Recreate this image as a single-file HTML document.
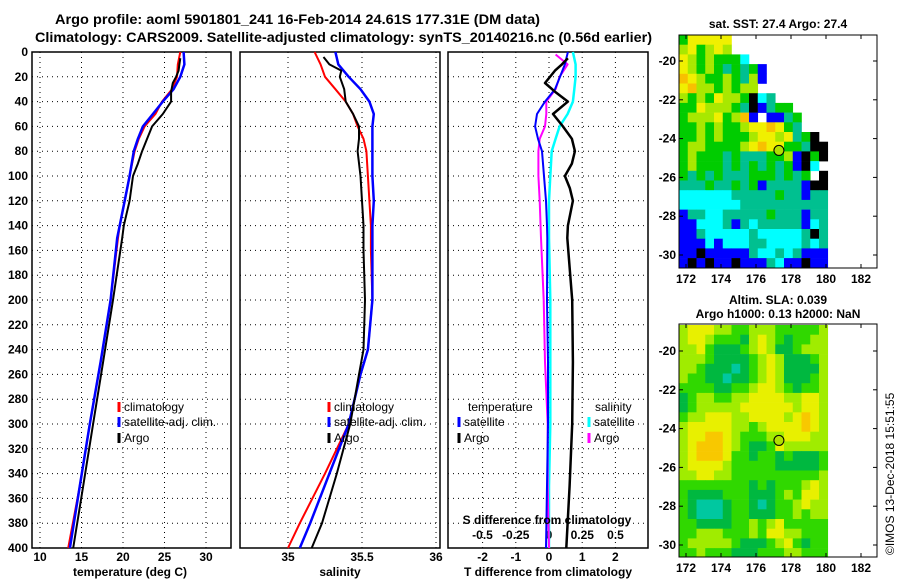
<!DOCTYPE html>
<html><head><meta charset="utf-8"><style>
body{margin:0;background:#fff;}
svg{display:block;font-family:"Liberation Sans",sans-serif;}
.t{font-weight:bold;font-size:12px;}
</style></head><body>
<svg id="c" width="900" height="580" viewBox="0 0 900 580">
<text x="55" y="24" textLength="485" lengthAdjust="spacingAndGlyphs" font-size="14" font-weight="bold">Argo profile: aoml 5901801_241 16-Feb-2014 24.61S 177.31E (DM data)</text>
<text x="35" y="42" textLength="617" lengthAdjust="spacingAndGlyphs" font-size="14" font-weight="bold">Climatology: CARS2009. Satellite-adjusted climatology: synTS_20140216.nc (0.56d earlier)</text>
<g id="maps"></g>
<g id="plots"></g>
<text class="t" x="130" y="576" text-anchor="middle">temperature (deg C)</text>
<text class="t" x="340" y="576" text-anchor="middle">salinity</text>
<text class="t" x="548" y="576" text-anchor="middle">T difference from climatology</text>
<text class="t" x="547" y="524" text-anchor="middle">S difference from climatology</text>
<text class="t" x="778" y="28" text-anchor="middle">sat. SST: 27.4 Argo: 27.4</text>
<text class="t" x="778" y="304" text-anchor="middle">Altim. SLA: 0.039</text>
<text class="t" x="778" y="318" text-anchor="middle">Argo h1000: 0.13 h2000: NaN</text>
<text x="0" y="0" font-size="12" transform="translate(894,555) rotate(-90)">©IMOS 13-Dec-2018 15:51:55</text>
</svg>
<script>
// ---- profile data ----
const depthT = [0,10,20,30,40,50,60,70,80,100,120,140,150,200,250,300,350,400];
const climT = [26.9,26.6,26.5,25.9,24.7,23.9,22.6,21.9,21.4,20.8,20.2,19.6,19.4,18.5,17.3,16.0,14.8,13.4];
const satT  = [27.3,27.4,26.9,26.1,24.8,23.6,22.4,21.8,21.3,20.8,20.2,19.6,19.3,18.5,17.3,16.0,14.8,13.6];
const depthArgo = [5,10,15,20,25,32,40,50,60,70,80,90,100,110,120,140,150,200,250,300,350,400];
const argoT = [26.9,26.8,26.7,26.4,26.0,25.8,25.8,24.8,23.5,22.9,22.3,21.8,21.2,21.0,20.8,20.1,19.9,18.8,17.6,16.4,15.2,14.0];
const depthS = [0,10,20,30,40,50,60,70,80,100,120,140,160,200,240,260,300,340,380,400];
const climS = [35.18,35.22,35.25,35.32,35.39,35.44,35.47,35.51,35.53,35.54,35.55,35.56,35.56,35.57,35.54,35.49,35.41,35.25,35.08,35.0];
const satS  = [35.32,35.34,35.41,35.49,35.55,35.58,35.57,35.57,35.57,35.57,35.58,35.57,35.57,35.57,35.54,35.49,35.41,35.28,35.15,35.08];
const depthArgoS = [4,10,15,20,30,40,50,60,70,80,100,120,140,160,200,240,260,300,340,380,400];
const argoS = [35.24,35.28,35.36,35.35,35.38,35.39,35.44,35.48,35.48,35.47,35.49,35.50,35.51,35.51,35.52,35.51,35.48,35.42,35.33,35.23,35.16];
const depthD = [0,10,20,30,40,50,60,70,80,100,120,140,150,200,250,300,350,400];
const satTdiff = [0.57,0.48,0.33,0.18,-0.12,-0.36,-0.42,-0.33,-0.21,-0.15,-0.09,-0.06,-0.05,-0.06,-0.03,-0.03,-0.06,-0.09];
const argoTdiffDepth = [5,10,15,25,32,40,50,60,70,80,90,100,110,120,140,150,200,250,300,350,400];
const argoTdiff = [0.57,0.39,0.18,-0.12,0.18,0.57,0.12,0.42,0.69,0.78,0.69,0.48,0.63,0.72,0.57,0.55,0.7,0.72,0.7,0.62,0.52];
const satSdiff = [0.18,0.2,0.2,0.19,0.18,0.14,0.08,0.05,0.02,0.01,0.0,0.0,0.0,0.01,0.01,0.01,0.0,0.0];
const argoSdiffDepth = [2,10,20,30,40,50,60,70,80,100,120,150,200,250,300,350,400];
const argoSdiff = [0.05,0.14,0.08,0.05,-0.02,-0.02,-0.03,-0.07,-0.08,-0.08,-0.07,-0.06,-0.04,-0.03,-0.01,-0.01,0.0];
const depthTicks = [0,20,40,60,80,100,120,140,160,180,200,220,240,260,280,300,320,340,360,380,400];
const tTicks = [10,15,20,25,30];
const sTicks = [35,35.5,36];
const tdTicks = [-2,-1,0,1,2];
const sdTicks = [-0.5,-0.25,0,0.25,0.5];
const tdTickLabels = ['-2','-1','0','1','2'];
const sdTickLabels = ['-0.5','-0.25','0','0.25','0.5'];
// ---- map data (rows from 18.66S southward, 0.5deg; cols from 171.6E) ----
const sstRows = [
"gyyyyywwwwwwwwwww","lyglylwwwwwwwwwww","ylglgggcwwwwwwwww","ylglgtgtgbwwwwwww",
"oylgglgtlbwwwwwww","yollglgllwwwwwwww","lglgyllgkctwwwwww","ggylllgtkbtggwwww",
"glllyglobwbbtgwww","gglglgglyyoygtwww","gglglggglyylytgkw","gllgggglyoyyggtkk",
"glgggtgtttgglbkgk","glgggtgtgtgtgbkcw","gtgtgtttgggtgtgwk","tttgttgtgbttttbkk",
"cccccctttttgttbtt","ccccccctttttttttt","bttcctttttgtttbtt","bbccctbtctttttbct",
"bbtccccctccccctkt","bbbcbcccttcccctct","bbkbbbbbtcctctbbb","bkbkbbkbbbtcbbkbb"];
const slaRows = [
"lyyyllgglllgggggl","lyylgggdlylgdggll","llygdddglylddglll","lllgddddglyldddgl",
"llgdddtdglylddddl","lggddtddglyldddgl","ggggddgglyylgdggl","dgllggllyyyyllyyl",
"dglllllyyyyyylyyl","gllyyyllyyyylyoyl","lyyyyyllglyyyyoyl","lyyooylgggllyyyll",
"lyoooylgddgylllll","lyoooyggdggdgdddg","lyyyylgggggdddddg","llyyllggggggggggl",
"ggggggggdgdggglyl","gddddgggdddglgyyl","gdtttdggdtdgglyll","gdtttdggdddgglgll",
"ggddddgglglyggggg","gglllggglgyyllggg","glllllgdddglygdgg","gglgggdddgggllggg"];
const lonTicks = [172,174,176,178,180,182];
const latTicks = [20,22,24,26,28,30];
const argoLon = 177.31, argoLat = 24.61;

const NS='http://www.w3.org/2000/svg';
function mk(tag, attrs, parent){const e=document.createElementNS(NS,tag);for(const k in attrs)e.setAttribute(k,attrs[k]);parent.appendChild(e);return e;}
const plots=document.getElementById('plots'), maps=document.getElementById('maps');
const yD = d => 52 + d*1.24;
const x1 = t => 40 + (t-10)*8.3;
const x2 = s => 288 + (s-35)*148;
const x3T = t => 549 + t*33.2;
const x3S = s => 549 + s*133;
const panels=[{l:32,r:231,n:'temperature'},{l:240,r:440,n:'salinity'},{l:448,r:648,n:'difference'}];

panels.forEach((p,i)=>{
  const g=mk('g',{},plots);
  
  
  depthTicks.forEach(d=>{
    const y=yD(d);
    if(d>0&&d<400){const gl=mk('line',{x1:p.l,x2:p.r,y1:y,y2:y,stroke:'#000','stroke-width':1,'stroke-dasharray':'1,4'},g);
      
      }
    if(i===0){const tx=mk('text',{x:28,y:y+4,'text-anchor':'end',class:'t'},g);tx.textContent=d;
      
      }
  });
});
function vgrid(vals, fx, labels, ylab){
  vals.forEach((v,k)=>{
    const x=fx(v);
    const gl=mk('line',{x1:x,x2:x,y1:52,y2:548,stroke:'#000','stroke-width':1,'stroke-dasharray':'1,4'},plots);
    
    
    const tx=mk('text',{x:x,y:ylab,'text-anchor':'middle',class:'t'},plots);tx.textContent=labels[k];
    
    
  });
}
vgrid(tTicks,x1,tTicks,561);
vgrid(sTicks,x2,sTicks,561);
vgrid(tdTicks,x3T,tdTickLabels,561);
sdTicks.forEach((v,k)=>{const tx=mk('text',{x:x3S(v),y:539,'text-anchor':'middle',class:'t'},plots);tx.textContent=sdTickLabels[k];
  
  });
panels.forEach(p=>{const r=mk('rect',{x:p.l,y:52,width:p.r-p.l,height:496,fill:'none',stroke:'#000','stroke-width':1.5},plots);
  
  });

function series(ds, vs, fx, color, w, name){
  const pts=ds.map((d,k)=>fx(vs[k]).toFixed(1)+','+yD(d).toFixed(1)).join(' ');
  const pl=mk('polyline',{points:pts,fill:'none',stroke:color,'stroke-width':w,'stroke-linejoin':'round'},plots);
  
  
}
series(depthT,climT,x1,'#f00',2,'climatology-temperature-line');
series(depthT,satT,x1,'#00f',2.5,'satellite-temperature-line');
series(depthArgo,argoT,x1,'#000',2,'argo-temperature-line');
series(depthS,climS,x2,'#f00',2,'climatology-salinity-line');
series(depthS,satS,x2,'#00f',2.5,'satellite-salinity-line');
series(depthArgoS,argoS,x2,'#000',2,'argo-salinity-line');
series(depthD,satSdiff,x3S,'#0ff',2.5,'satellite-s-diff-line');
series(argoSdiffDepth,argoSdiff,x3S,'#f0f',2,'argo-s-diff-line');
series(depthD,satTdiff,x3T,'#00f',2,'satellite-t-diff-line');
series(argoTdiffDepth,argoTdiff,x3T,'#000',2.5,'argo-t-diff-line');

function legend(x,y,color,label){
  const l=mk('line',{x1:x,x2:x,y1:y-9,y2:y+1,stroke:color,'stroke-width':3},plots);
  
  
  const t=mk('text',{x:x+5,y:y,'font-size':12},plots);t.textContent=label;
  
  
}
legend(119,411,'#f00','climatology');legend(119,426,'#00f','satellite-adj. clim.');legend(119,442,'#000','Argo');
legend(329,411,'#f00','climatology');legend(329,426,'#00f','satellite-adj. clim.');legend(329,442,'#000','Argo');
legend(459,426,'#00f','satellite');legend(459,442,'#000','Argo');
legend(589,426,'#0ff','satellite');legend(589,442,'#f0f','Argo');
[['temperature',468],['salinity',595]].forEach(a=>{const t=mk('text',{x:a[1],y:411,'font-size':12},plots);t.textContent=a[0];
  
  });

// ---- maps ----
const mx = lon => 686 + (lon-172)*17.5;
const sstCol={y:'#f0f000',o:'#f8c000',l:'#a8e800',g:'#00cc00',t:'#00c090',c:'#00ffff',b:'#0000ff',k:'#000000',w:'#ffffff'};
const slaCol={y:'#e8f000',o:'#f8c800',l:'#a0ec00',g:'#30d800',d:'#00b840',t:'#00c8a0'};
function drawMap(rows, cols, top, latZero, name){
  const my = s => latZero + (s-20)*19.4;
  const g=mk('g',{},maps);
  
  
  const bottom=top+233;
  mk('rect',{x:679,y:top,width:198,height:233,fill:'#fff'},g);
  rows.forEach((row,r)=>{
    for(let c=0;c<row.length;c++){
      const ch=row[c]; if(ch==='w')continue;
      const lon=171.6+c*0.5, lat=18.66+r*0.5;
      const x0=Math.max(679,mx(lon)), x1_=mx(lon+0.5), y0=Math.max(top,my(lat)), y1_=Math.min(bottom,my(lat+0.5));
      const cell=mk('rect',{x:x0,y:y0,width:x1_-x0+0.3,height:y1_-y0+0.3,fill:cols[ch]},g);
      
      
    }
  });
  const fr=mk('rect',{x:679,y:top,width:198,height:233,fill:'none',stroke:'#000','stroke-width':1},g);
  
  
  lonTicks.forEach(l=>{const x=mx(l);mk('line',{x1:x,x2:x,y1:top,y2:top+4,stroke:'#000'},g);mk('line',{x1:x,x2:x,y1:bottom,y2:bottom-4,stroke:'#000'},g);
    const t=mk('text',{x:x,y:bottom+15,'text-anchor':'middle',class:'t'},g);t.textContent=l;
    
    });
  latTicks.forEach(s=>{const y=my(s);mk('line',{x1:877,x2:873,y1:y,y2:y,stroke:'#000'},g);mk('line',{x1:679,x2:683,y1:y,y2:y,stroke:'#000'},g);
    const t=mk('text',{x:676,y:y+4,'text-anchor':'end',class:'t'},g);t.textContent='-'+s;
    
    });
  const pt=mk('circle',{cx:mx(argoLon),cy:my(argoLat),r:5,fill:'#b0e000',stroke:'#000','stroke-width':1},g);
  
  
}
drawMap(sstRows,sstCol,35,61,'sst-map');
drawMap(slaRows,slaCol,324,351,'sla-map');
</script>
</body></html>
